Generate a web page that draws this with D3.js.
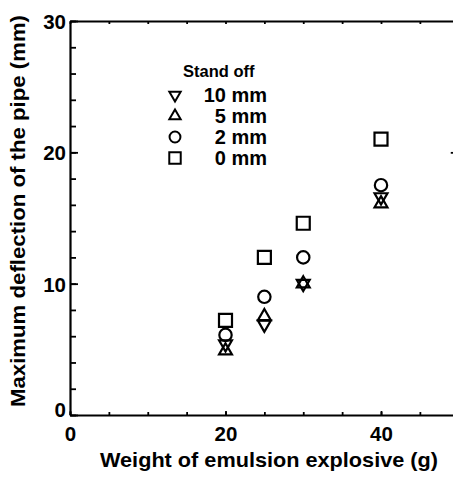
<!DOCTYPE html>
<html>
<head>
<meta charset="utf-8">
<script src="https://cdn.jsdelivr.net/npm/d3@7"></script>
<style>
  html, body { margin: 0; padding: 0; background: #fff; }
  svg { display: block; }
  text { font-family: "Liberation Sans", Arial, Helvetica, sans-serif; font-weight: bold; fill: #000; }
</style>
</head>
<body>
<div id="chart"></div>
<script>
// ---- data ----
const weights = [20, 25, 30, 40];
const standOff10 = [5.4, 6.9, 10.0, 16.6];
const standOff5  = [4.9, 7.5, 10.0, 16.1];
const standOff2  = [6.1, 9.0, 12.0, 17.5];
const standOff0  = [7.2, 12.0, 14.6, 21.0];
const seriesNames = ["10 mm", "5 mm", "2 mm", "0 mm"];
const seriesShapes = ["down", "up", "circle", "square"];
const xTickLabels = [0, 20, 40];
const yTickLabels = [0, 10, 20, 30];
const legendTitle = "Stand off";
const xTitle = "Weight of emulsion explosive (g)";
const yTitle = "Maximum deflection of the pipe (mm)";

const series = [standOff10, standOff5, standOff2, standOff0].map((vals, i) => ({
  name: seriesNames[i], shape: seriesShapes[i],
  points: vals.map((v, j) => ({x: weights[j], y: v}))
}));

// ---- layout ----
const W = 453, H = 482;
const svg = d3.select("#chart").append("svg").attr("width", W).attr("height", H);

const x = d3.scaleLinear().domain([0, 50]).range([70, 458.75]);
const y = d3.scaleLinear().domain([0, 30]).range([415, 21]);

function symbolPath(shape, big) {
  const k = big ? 1 : 0.88;
  if (shape === "square") return d3.symbol(d3.symbolSquare, 169 * k * k)();
  if (shape === "circle") return d3.symbol(d3.symbolCircle, 120 * k * k)();
  return d3.symbol(d3.symbolTriangle, 72 * k * k)();
}
function symbolTransform(shape, px, py) {
  return `translate(${px},${py})` + (shape === "down" ? " rotate(180)" : "");
}

const axisStyle = g => {
  g.selectAll(".domain").attr("stroke", "#000").attr("stroke-width", 2.2);
  g.selectAll(".tick line").attr("stroke", "#000").attr("stroke-width", 1.8);
};

// bottom axis: minor ticks every 5, major every 10
svg.append("g").attr("transform", `translate(0,${y(0)})`)
  .call(d3.axisBottom(x).tickValues(d3.range(0, 51, 5)).tickSizeInner(-3).tickSizeOuter(0).tickFormat(""))
  .call(axisStyle);
svg.append("g").attr("transform", `translate(0,${y(0)})`)
  .call(d3.axisBottom(x).tickValues(xTickLabels).tickSizeInner(-4).tickSizeOuter(0).tickPadding(12))
  .call(axisStyle)
  .call(g => g.select(".domain").remove())
  .call(g => g.selectAll("text").attr("font-size", 20.5).attr("font-family", null).attr("dy", "0.71em").attr("y", 11));

// top axis
svg.append("g").attr("transform", `translate(0,${y(30)})`)
  .call(d3.axisTop(x).tickValues(d3.range(0, 51, 5)).tickSizeInner(-3).tickSizeOuter(0).tickFormat(""))
  .call(axisStyle);

// left axis
svg.append("g").attr("transform", `translate(${x(0)},0)`)
  .call(d3.axisLeft(y).tickValues(d3.range(0, 31, 2)).tickSizeInner(-6).tickSizeOuter(0).tickFormat(""))
  .call(axisStyle);
svg.append("g").attr("transform", `translate(${x(0)},0)`)
  .call(d3.axisLeft(y).tickValues(yTickLabels).tickSizeInner(-8).tickSizeOuter(0).tickPadding(5))
  .call(axisStyle)
  .call(g => g.select(".domain").remove())
  .call(g => g.selectAll("text").attr("font-size", 20.5).attr("font-family", null).attr("x", -4)
      .attr("dy", d => d === 0 ? "0.05em" : "0.36em"));

// right axis (mostly outside the visible area)
svg.append("g").attr("transform", `translate(${x(50)},0)`)
  .call(d3.axisRight(y).tickValues([20]).tickSizeInner(-8).tickSizeOuter(0).tickFormat(""))
  .call(axisStyle);

// axis titles
svg.append("text").attr("x", 269).attr("y", 467).attr("text-anchor", "middle")
  .attr("font-size", 21).attr("textLength", 338).attr("lengthAdjust", "spacingAndGlyphs").text(xTitle);
svg.append("text").attr("transform", "translate(25,211) rotate(-90)").attr("text-anchor", "middle")
  .attr("font-size", 21).attr("textLength", 392).attr("lengthAdjust", "spacingAndGlyphs").text(yTitle);

// data markers
const markG = svg.append("g");
series.forEach(s => {
  markG.selectAll(null).data(s.points).enter().append("path")
    .attr("d", symbolPath(s.shape, true))
    .attr("transform", d => symbolTransform(s.shape, x(d.x), y(d.y)))
    .attr("fill", "none").attr("stroke", "#000").attr("stroke-width", 2.2);
});

// legend
const leg = svg.append("g");
leg.append("text").attr("x", 183).attr("y", 77).attr("font-size", 16.5).text(legendTitle);
series.forEach((s, i) => {
  const by = 102 + i * 21;
  leg.append("path").attr("d", symbolPath(s.shape, false))
    .attr("transform", symbolTransform(s.shape, 175, by - 7))
    .attr("fill", "none").attr("stroke", "#000").attr("stroke-width", 2);
  leg.append("text").attr("x", 267).attr("y", by).attr("text-anchor", "end")
    .attr("font-size", 20).text(s.name);
});
</script>
</body>
</html>
